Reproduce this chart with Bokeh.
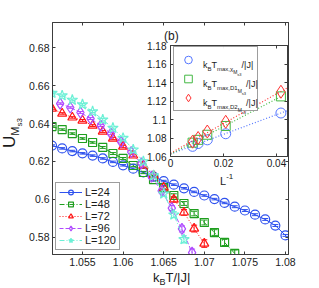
from bokeh.plotting import figure
from bokeh.models import (ColumnDataSource, Whisker, TeeHead, Legend, LegendItem,
                          LinearAxis, FixedTicker, Range1d, GridBox, Div)
from bokeh.embed import file_html
from bokeh.resources import INLINE

# ---------------- main panel data ----------------
T_24 = [1.05125, 1.0525, 1.05375, 1.055, 1.05625, 1.0575, 1.05875, 1.06, 1.06125, 1.0625,
        1.06375, 1.065, 1.06625, 1.0675, 1.06875, 1.07, 1.07125, 1.0725, 1.07375, 1.075,
        1.07625, 1.0775, 1.07875, 1.08]
U_24 = [0.6284, 0.6269, 0.6255, 0.6243, 0.6231, 0.6216, 0.6198, 0.6180, 0.6162, 0.6143,
        0.6120, 0.6097, 0.6078, 0.6059, 0.6040, 0.6021, 0.6002, 0.5982, 0.5962, 0.5942,
        0.5920, 0.5895, 0.5863, 0.5811]
E_24 = [0.0004, 0.0004, 0.0004, 0.0004, 0.0004, 0.0004, 0.0004, 0.0004, 0.0004, 0.0004,
        0.0004, 0.0004, 0.0004, 0.0004, 0.0004, 0.0004, 0.0004, 0.0004, 0.0005, 0.0005,
        0.0005, 0.0005, 0.0005, 0.0005]

T_48 = [1.05125, 1.0525, 1.05375, 1.055, 1.05625, 1.0575, 1.05875, 1.06, 1.06125, 1.0625,
        1.06375, 1.065, 1.06625, 1.0675, 1.06875, 1.07, 1.07125, 1.0725, 1.07375]
U_48 = [0.6384, 0.6368, 0.6347, 0.6321, 0.6300, 0.6274, 0.6242, 0.6216, 0.6179, 0.6142,
        0.6105, 0.6063, 0.6021, 0.5979, 0.5926, 0.5879, 0.5826, 0.5774, 0.5716]
E_48 = [0.0004, 0.0004, 0.0004, 0.0004, 0.0004, 0.0005, 0.0005, 0.0005, 0.0006, 0.0006,
        0.0007, 0.0008, 0.0009, 0.0010, 0.0012, 0.0013, 0.0015, 0.0016, 0.0018]

T_72 = [1.05125, 1.0525, 1.05375, 1.055, 1.05625, 1.0575, 1.05875, 1.06, 1.06125, 1.0625,
        1.06375, 1.065, 1.06625, 1.0675, 1.06875, 1.07]
U_72 = [0.6479, 0.6453, 0.6432, 0.6416, 0.6389, 0.6358, 0.6321, 0.6279, 0.6232, 0.6179,
        0.6126, 0.6063, 0.6000, 0.5932, 0.5847, 0.5768]
E_72 = [0.0004, 0.0004, 0.0004, 0.0005, 0.0005, 0.0005, 0.0006, 0.0006, 0.0007, 0.0008,
        0.0009, 0.0011, 0.0013, 0.0015, 0.0018, 0.0020]

T_96 = [1.05225, 1.0535, 1.05475, 1.056, 1.05725, 1.0585, 1.05975, 1.061, 1.06225, 1.0635,
        1.06475, 1.066, 1.06725, 1.0685]
U_96 = [0.6505, 0.6484, 0.6458, 0.6426, 0.6389, 0.6347, 0.6303, 0.6250, 0.6190, 0.6120,
        0.6045, 0.5955, 0.5845, 0.5720]
E_96 = [0.0004, 0.0004, 0.0005, 0.0005, 0.0005, 0.0006, 0.0006, 0.0007, 0.0008, 0.0009,
        0.0011, 0.0013, 0.0016, 0.0019]

T_120 = [1.05125, 1.0525, 1.05375, 1.055, 1.05625, 1.0575, 1.05875, 1.06, 1.06125, 1.0625,
         1.06375, 1.065, 1.06625, 1.0675]
U_120 = [0.6560, 0.6547, 0.6524, 0.6500, 0.6463, 0.6420, 0.6376, 0.6323, 0.6262, 0.6200,
         0.6126, 0.6030, 0.5920, 0.5790]
E_120 = [0.0004, 0.0004, 0.0005, 0.0005, 0.0005, 0.0006, 0.0006, 0.0007, 0.0008, 0.0009,
         0.0011, 0.0013, 0.0016, 0.0019]

# ---------------- inset data ----------------
L_sizes = [24, 48, 72, 96, 120]
T_chi = [1.1070, 1.0846, 1.0780, 1.0740, 1.0710]
T_D1 = [1.1250, 1.0930, 1.0835, 1.0780, 1.0750]
T_D2 = [1.1300, 1.0975, 1.0870, 1.0800, 1.0760]

main_ticks_x = [1.055, 1.06, 1.065, 1.07, 1.075, 1.08]
main_labels_x = ["1.055", "1.06", "1.065", "1.07", "1.075", "1.08"]
main_ticks_y = [0.58, 0.60, 0.62, 0.64, 0.66, 0.68]
main_labels_y = ["0.58", "0.6", "0.62", "0.64", "0.66", "0.68"]
inset_ticks_x = [0.0, 0.02, 0.04]
inset_labels_x = ["0", "0.02", "0.04"]
inset_ticks_y = [1.06, 1.08, 1.10, 1.12, 1.14, 1.16, 1.18]
inset_labels_y = ["1.06", "1.08", "1.1", "1.12", "1.14", "1.16", "1.18"]

FONT = "Liberation Sans"
AX = "#3c3c3c"
TXT = "#1a1a1a"
W, H = 319, 288


def style_axis(ax, ticks, labels, size, standoff, show=True):
    ax.ticker = FixedTicker(ticks=ticks)
    ax.major_label_overrides = dict(zip(ticks, labels if show else [""] * len(ticks)))
    ax.major_tick_in = 3
    ax.major_tick_out = 0
    ax.minor_tick_in = 0
    ax.minor_tick_out = 0
    ax.axis_line_color = AX
    ax.major_tick_line_color = AX
    ax.major_label_text_font = FONT
    ax.major_label_text_font_size = size if show else "0px"
    ax.major_label_text_color = TXT
    ax.major_label_standoff = standoff if show else 0


# ---------------- main figure ----------------
p = figure(width=W, height=H, x_range=Range1d(1.05131, 1.08037),
           y_range=Range1d(0.57105, 0.69316), output_backend="svg",
           toolbar_location=None, min_border_left=52, min_border_right=31,
           min_border_top=22, min_border_bottom=34)
p.frame_align = False
p.xgrid.visible = False
p.ygrid.visible = False
p.outline_line_color = AX
p.background_fill_color = "white"
p.border_fill_color = "white"
style_axis(p.xaxis[0], main_ticks_x, main_labels_x, "10.5px", 3)
style_axis(p.yaxis[0], main_ticks_y, main_labels_y, "10.5px", 3)
top_ax = LinearAxis()
right_ax = LinearAxis()
style_axis(top_ax, main_ticks_x, main_labels_x, "10.5px", 0, show=False)
style_axis(right_ax, main_ticks_y, main_labels_y, "10.5px", 0, show=False)
p.add_layout(top_ax, "above")
p.add_layout(right_ax, "right")

series = [
    ("L=24", T_24, U_24, E_24, "#2f52ee", "circle", 9, "solid"),
    ("L=48", T_48, U_48, E_48, "#1e9e1e", "square", 8, "5 2 1 2"),
    ("L=72", T_72, U_72, E_72, "#ff1414", "triangle", 9, "1 2"),
    ("L=96", T_96, U_96, E_96, "#b04aff", "diamond", 11, "4 2"),
    ("L=120", T_120, U_120, E_120, "#6cf0d6", "star", 11, "5 2 1 2"),
]
items = []
for name, tx, uy, ee, col, mk, sz, dash in series:
    src = ColumnDataSource(dict(x=tx, y=uy,
                                upper=[a + b for a, b in zip(uy, ee)],
                                lower=[a - b for a, b in zip(uy, ee)]))
    lr = p.line("x", "y", source=src, line_color=col, line_width=1, line_dash=dash)
    sr = p.scatter("x", "y", source=src, marker=mk, size=sz, line_color=col,
                   fill_color=None, line_width=1.2)
    p.add_layout(Whisker(source=src, base="x", upper="upper", lower="lower",
                         dimension="height", line_color=col, line_width=1,
                         upper_head=TeeHead(size=6, line_color=col, line_width=1),
                         lower_head=TeeHead(size=6, line_color=col, line_width=1)))
    items.append(LegendItem(label=name, renderers=[lr, sr]))

leg = Legend(items=items, location=(3, 4), label_text_font=FONT,
             label_text_font_size="11px", label_text_color=TXT, label_height=12,
             glyph_height=12, glyph_width=23, spacing=0, padding=3, margin=0,
             label_standoff=3, border_line_color=AX, border_line_width=1,
             background_fill_alpha=1.0)
p.add_layout(leg)

# ---------------- inset figure ----------------
q = figure(width=179, height=160, x_range=Range1d(0.0, 0.04415),
           y_range=Range1d(1.06, 1.18), output_backend="svg",
           toolbar_location=None, min_border_left=30, min_border_right=32,
           min_border_top=20, min_border_bottom=29)
q.frame_align = False
q.xgrid.visible = False
q.ygrid.visible = False
q.outline_line_color = AX
q.background_fill_color = "white"
q.border_fill_color = None
style_axis(q.xaxis[0], inset_ticks_x, inset_labels_x, "10px", 2)
style_axis(q.yaxis[0], inset_ticks_y, inset_labels_y, "10px", 4)
q_top = LinearAxis()
q_right = LinearAxis()
style_axis(q_top, inset_ticks_x, inset_labels_x, "10px", 0, show=False)
style_axis(q_right, inset_ticks_y, inset_labels_y, "10px", 0, show=False)
q.add_layout(q_top, "above")
q.add_layout(q_right, "right")

inv_L = [1.0 / n for n in L_sizes]
x_end = 0.04415
inset_series = [
    (T_chi, "#5577ff", "circle", 10),
    (T_D1, "#44b844", "square", 9),
    (T_D2, "#ff3030", "diamond", 13),
]
inset_items = []
for ty, col, mk, sz in inset_series:
    # least-squares line through the five points, extrapolated to 1/L = 0
    n = len(inv_L)
    mx = sum(inv_L) / n
    my = sum(ty) / n
    slope = sum((a - mx) * (b - my) for a, b in zip(inv_L, ty)) / sum((a - mx) ** 2 for a in inv_L)
    icpt = my - slope * mx
    q.line([0.0, x_end], [icpt, icpt + slope * x_end], line_color=col, line_width=1.2,
           line_dash="1 2")
    r = q.scatter(inv_L, ty, marker=mk, size=sz, line_color=col, fill_color=None,
                  line_width=1)
    inset_items.append(LegendItem(label=" ", renderers=[r]))

qleg = Legend(items=inset_items, location=(3, 45), label_text_font_size="9px",
              label_height=19, glyph_height=19, glyph_width=22, label_width=55,
              spacing=0, padding=3, margin=0, label_standoff=0,
              border_line_color=AX, border_line_width=1)
q.add_layout(qleg)
q.margin = (25, 0, 0, 140)


# ---------------- free texts as HTML (page pixel positions) ----------------
def sub(t, fs, dy):
    return (f'<span style="font-size:{fs}px;position:relative;top:{dy}px">{t}</span>')


def text_div(html, left, top, w, h, fs, lh, extra=""):
    inner = (f'<div style="font-family:\'{FONT}\';font-size:{fs}px;line-height:{lh}px;'
             f'color:{TXT};white-space:nowrap;{extra}">{html}</div>')
    return Div(text=inner, width=w, height=h, margin=(top, 0, 0, left))


divs = []
# x label  k_B T/|J|
divs.append(text_div("k" + sub("B", 9, 3) + "T/|J|", 153, 270, 60, 18, 13, 13))
# y label  U_{M_s3}, rotated to read upwards
divs.append(text_div("U" + sub("M" + sub("s3", 8, 3), 11, 4), 0, 100, 30, 60, 17, 20,
                     "display:inline-block;transform-origin:0 0;"
                     "transform:translate(0px,48px) rotate(-90deg);"))
# inset panel tag and x label
divs.append(text_div("(b)", 164, 28, 24, 14, 12, 12))
divs.append(text_div("L" + sub("-1", 8, -6), 220, 173, 20, 14, 11, 11))
# inset legend entries
for name, top in zip(["max,χ", "max,D1", "max,D2"], [56, 75, 94]):
    html = ("k" + sub("B", 6, 3) + "T" + sub(name + sub("M" + sub("s3", 4, 2), 5, 3), 6, 3)
            + "/|J|")
    divs.append(text_div(html, 203, top, 54, 16, 9, 9))

children = [(p, 0, 0), (q, 0, 0)] + [(d, 0, 0) for d in divs]
layout = GridBox(children=children)

open("out.html", "w").write(file_html(layout, INLINE))
